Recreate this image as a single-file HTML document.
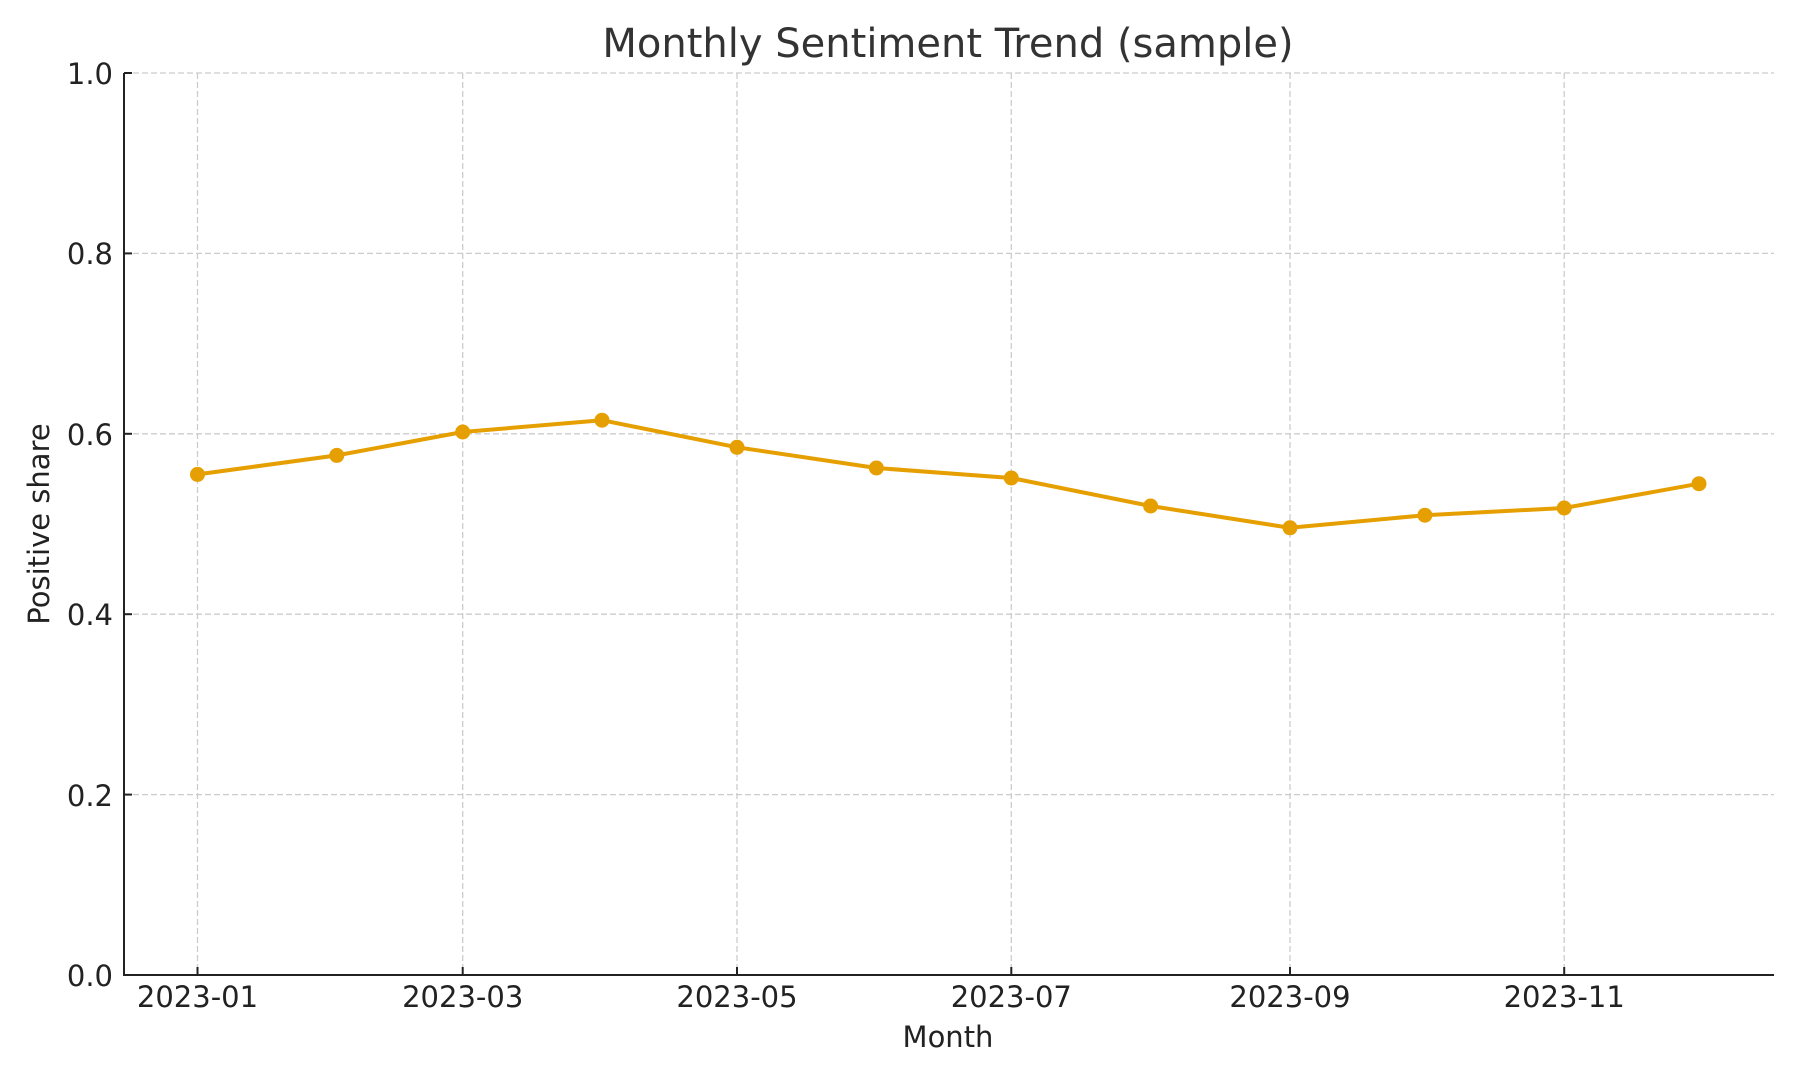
<!DOCTYPE html>
<html><head><meta charset="utf-8"><style>body{margin:0;background:#fff}svg{display:block}</style></head>
<body>
<svg width="1800" height="1080" viewBox="0 0 1800 1080" xmlns="http://www.w3.org/2000/svg" font-family="DejaVu Sans, Liberation Sans, sans-serif">
<rect width="1800" height="1080" fill="#fff"/>
<g stroke="#cccccc" stroke-width="1.3" stroke-dasharray="6,3">
<line x1="124" x2="1774" y1="73" y2="73"/>
<line x1="124" x2="1774" y1="253.4" y2="253.4"/>
<line x1="124" x2="1774" y1="433.8" y2="433.8"/>
<line x1="124" x2="1774" y1="614.2" y2="614.2"/>
<line x1="124" x2="1774" y1="794.6" y2="794.6"/>
<line y1="73" y2="975" x1="197.5" x2="197.5"/>
<line y1="73" y2="975" x1="462.7" x2="462.7"/>
<line y1="73" y2="975" x1="737" x2="737"/>
<line y1="73" y2="975" x1="1011.3" x2="1011.3"/>
<line y1="73" y2="975" x1="1290" x2="1290"/>
<line y1="73" y2="975" x1="1564.2" x2="1564.2"/>
</g>
<g stroke="#222" stroke-width="2">
<line x1="124" y1="73" x2="124" y2="976"/>
<line x1="123" y1="975" x2="1774" y2="975"/>
<line x1="124" x2="132" y1="73" y2="73"/><line x1="124" x2="132" y1="253.4" y2="253.4"/><line x1="124" x2="132" y1="433.8" y2="433.8"/><line x1="124" x2="132" y1="614.2" y2="614.2"/><line x1="124" x2="132" y1="794.6" y2="794.6"/>
<line y1="975" y2="967" x1="197.5" x2="197.5"/><line y1="975" y2="967" x1="462.7" x2="462.7"/><line y1="975" y2="967" x1="737" x2="737"/><line y1="975" y2="967" x1="1011.3" x2="1011.3"/><line y1="975" y2="967" x1="1290" x2="1290"/><line y1="975" y2="967" x1="1564.2" x2="1564.2"/>
</g>
<g font-size="29" fill="#222" text-anchor="end">
<text x="113" y="84">1.0</text><text x="113" y="264">0.8</text><text x="113" y="445">0.6</text><text x="113" y="625">0.4</text><text x="113" y="806">0.2</text><text x="113" y="986">0.0</text>
</g>
<g font-size="29" fill="#222" text-anchor="middle">
<text x="197.5" y="1007">2023-01</text><text x="462.7" y="1007">2023-03</text><text x="737" y="1007">2023-05</text><text x="1011.3" y="1007">2023-07</text><text x="1290" y="1007">2023-09</text><text x="1564.2" y="1007">2023-11</text>
<text x="948" y="1047">Month</text>
<text transform="translate(49,524) rotate(-90)">Positive share</text>
</g>
<text x="948" y="57" font-size="40" fill="#333" text-anchor="middle">Monthly Sentiment Trend (sample)</text>
<polyline fill="none" stroke="#E69F00" stroke-width="4" stroke-linejoin="round" points="197.5,474.4 336.8,455.4 462.7,432 602,420.2 737,447.3 876.4,468 1011.3,478 1150.6,506 1290,527.8 1424.9,515.2 1564.2,508 1699,483.7"/>
<g fill="#E69F00">
<circle cx="197.5" cy="474.4" r="7.5"/><circle cx="336.8" cy="455.4" r="7.5"/><circle cx="462.7" cy="432" r="7.5"/><circle cx="602" cy="420.2" r="7.5"/><circle cx="737" cy="447.3" r="7.5"/><circle cx="876.4" cy="468" r="7.5"/><circle cx="1011.3" cy="478" r="7.5"/><circle cx="1150.6" cy="506" r="7.5"/><circle cx="1290" cy="527.8" r="7.5"/><circle cx="1424.9" cy="515.2" r="7.5"/><circle cx="1564.2" cy="508" r="7.5"/><circle cx="1699" cy="483.7" r="7.5"/>
</g>
</svg>
</body></html>
